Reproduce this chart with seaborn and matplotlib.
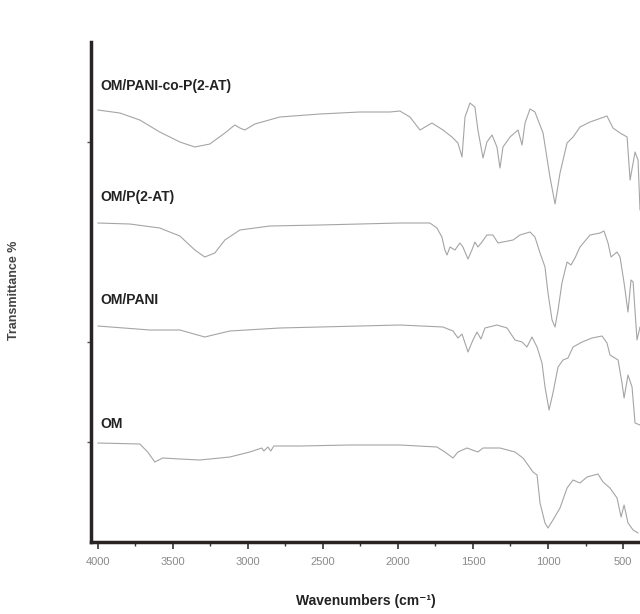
import numpy as np
import pandas as pd
import matplotlib
matplotlib.use("Agg")
import matplotlib.pyplot as plt
import seaborn as sns

# FTIR spectra (offset units, one trace stacked above the other)
wn_copat = [4000, 3853, 3720, 3587, 3453, 3353, 3253, 3153, 3087, 3053, 3020, 2953, 2787,
            2520, 2253, 2053, 1987, 1920, 1853, 1773, 1700, 1640, 1600, 1573, 1553, 1520,
            1487, 1467, 1433, 1407, 1373, 1340, 1320, 1300, 1253, 1200, 1173, 1153, 1120,
            1087, 1033, 987, 953, 920, 873, 833, 787, 720, 607, 567, 520, 473, 453, 420,
            400, 387]
t_copat = [432, 429, 422, 410, 400, 395, 398, 409, 417, 414, 412, 418, 425,
           428, 430, 430, 431, 425, 412, 419, 412, 405, 399, 385, 425, 439,
           435, 412, 384, 400, 407, 395, 374, 395, 405, 412, 397, 419, 433,
           430, 409, 365, 338, 369, 399, 405, 415, 420, 426, 414, 409, 405, 362, 390,
           382, 332]

wn_p2at = [4000, 3787, 3587, 3453, 3353, 3287, 3220, 3153, 3053, 2853, 2520, 2253, 1987,
           1787, 1740, 1707, 1687, 1673, 1653, 1620, 1587, 1567, 1533, 1507, 1487, 1467,
           1440, 1407, 1367, 1333, 1300, 1233, 1187, 1120, 1087, 1053, 1020, 1000, 973,
           953, 933, 907, 873, 847, 820, 787, 720, 653, 627, 600, 580, 540, 520, 493,
           467, 447, 433, 407, 387]
t_p2at = [319, 318, 314, 306, 292, 285, 289, 302, 312, 316, 317, 318, 319,
          319, 314, 305, 292, 287, 295, 292, 299, 295, 283, 292, 300, 295,
          300, 307, 307, 299, 300, 302, 307, 310, 305, 289, 275, 249, 222,
          215, 232, 259, 280, 277, 284, 295, 307, 309, 311, 299, 285, 290, 285, 259,
          230, 262, 260, 202, 215]

wn_pani = [4000, 3653, 3453, 3287, 3120, 2787, 1987, 1700, 1633, 1600, 1573, 1533, 1500,
           1473, 1447, 1420, 1340, 1273, 1220, 1173, 1140, 1107, 1073, 1040, 1020, 993,
           967, 933, 900, 867, 833, 773, 707, 640, 607, 587, 533, 507, 493, 467, 440,
           420, 387]
t_pani = [216, 212, 212, 205, 211, 214, 217, 215, 211, 204, 208, 190, 202,
          210, 203, 214, 217, 214, 202, 200, 195, 205, 195, 179, 155, 132,
          149, 175, 182, 184, 195, 200, 204, 206, 199, 187, 182, 159, 144, 167, 155,
          119, 117]

wn_om = [4000, 3720, 3667, 3620, 3567, 3453, 3320, 3120, 2987, 2907, 2893, 2867, 2847,
         2827, 2653, 2320, 1987, 1740, 1687, 1633, 1600, 1540, 1467, 1433, 1320, 1220,
         1167, 1133, 1100, 1073, 1053, 1020, 1000, 967, 920, 873, 833, 787, 740, 667,
         633, 587, 540, 513, 493, 467, 433, 400]
t_om = [99, 98, 90, 80, 84, 83, 82, 85, 90, 94, 91, 95, 91,
        96, 96, 97, 97, 95, 90, 84, 90, 94, 90, 94, 94, 90,
        84, 77, 70, 67, 39, 19, 14, 22, 34, 54, 62, 59, 65, 68,
        60, 54, 44, 25, 37, 19, 12, 9]

names = ["OM/PANI-co-P(2-AT)", "OM/P(2-AT)", "OM/PANI", "OM"]
label_y = [456, 345, 242, 118]

frames = []
for name, wn, t in zip(names, [wn_copat, wn_p2at, wn_pani, wn_om],
                       [t_copat, t_p2at, t_pani, t_om]):
    frames.append(pd.DataFrame({"wn": wn, "T": t, "sample": name}))
df = pd.concat(frames, ignore_index=True)

sns.set_style("ticks")
plt.rcParams["font.family"] = ["Liberation Sans", "DejaVu Sans"]

fig = plt.figure(figsize=(6.4, 6.14), dpi=100)
ax = fig.add_axes([91 / 640, 72 / 614, 1 - 91 / 640, 500 / 614])

sns.lineplot(data=df, x="wn", y="T", hue="sample", units="sample", estimator=None,
             palette=["#a5a5a5"] * 4, linewidth=0.8, legend=False, ax=ax)

for name, y in zip(names, label_y):
    ax.text(3985, y, name, fontsize=10, fontweight="bold", color="#222222",
            ha="left", va="center")

ax.set_xlim(4045, 387)
ax.set_ylim(0, 500)
ax.set_xticks(np.arange(4000, 499, -500))
ax.set_xticks(np.arange(3750, 499, -500), minor=True)
ax.set_yticks([100, 200, 400])
ax.set_yticklabels([])
ax.tick_params(axis="x", labelsize=8, labelcolor="#8a8a8a", length=5, width=1.2,
               color="#333333", pad=6)
ax.tick_params(axis="x", which="minor", length=3, width=1, color="#333333")
ax.tick_params(axis="y", length=3, width=1, color="#555555")

sns.despine(ax=ax)
for side in ["left", "bottom"]:
    ax.spines[side].set_linewidth(2.5)
    ax.spines[side].set_color("#2a2323")

ax.set_xlabel("Wavenumbers (cm\u207b\u00b9)", fontsize=10, fontweight="bold",
              color="#222222")
ax.xaxis.set_label_coords(0.5, -0.104)
ax.set_ylabel("Transmittance %", fontsize=9, fontweight="bold", color="#444444")
ax.yaxis.set_label_coords(-0.13, 0.504)

fig.savefig("out.png", dpi=100)
